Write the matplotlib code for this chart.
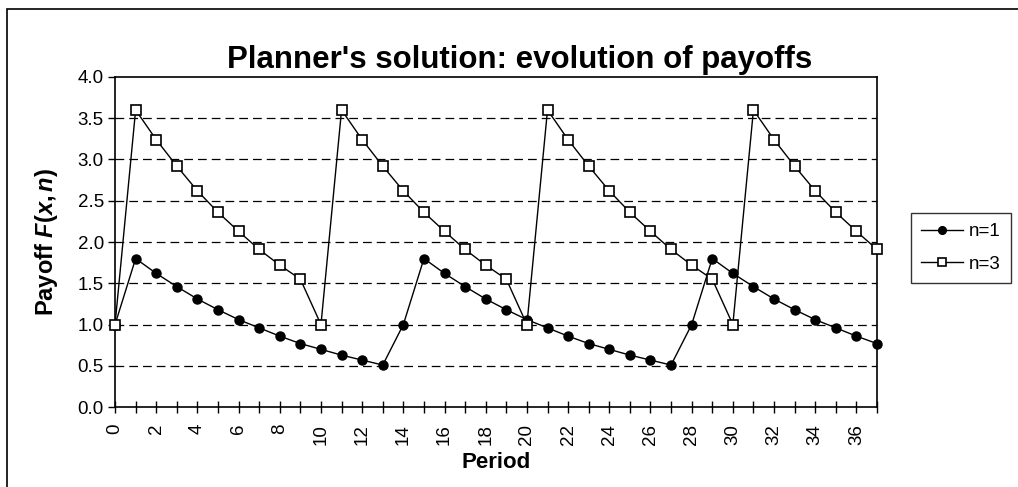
import matplotlib.pyplot as plt
from matplotlib.patches import Rectangle

plt.rcParams["font.family"] = ["Liberation Sans", "DejaVu Sans"]
plt.rcParams["mathtext.fontset"] = "custom"
plt.rcParams["mathtext.rm"] = "Liberation Sans:bold"
plt.rcParams["mathtext.it"] = "Liberation Sans:bold:italic"
plt.rcParams["mathtext.bf"] = "Liberation Sans:bold"

# Data
periods = list(range(38))
payoff_n1 = [1.00, 1.80, 1.62, 1.46, 1.31, 1.18, 1.06, 0.96, 0.86, 0.77,
             0.70, 0.63, 0.57, 0.51, 1.00, 1.80, 1.62, 1.46, 1.31, 1.18,
             1.06, 0.96, 0.86, 0.77, 0.70, 0.63, 0.57, 0.51, 1.00, 1.80,
             1.62, 1.46, 1.31, 1.18, 1.06, 0.96, 0.86, 0.77]
payoff_n3 = [1.00, 3.60, 3.24, 2.92, 2.62, 2.36, 2.13, 1.91, 1.72, 1.55,
             1.00, 3.60, 3.24, 2.92, 2.62, 2.36, 2.13, 1.91, 1.72, 1.55,
             1.00, 3.60, 3.24, 2.92, 2.62, 2.36, 2.13, 1.91, 1.72, 1.55,
             1.00, 3.60, 3.24, 2.92, 2.62, 2.36, 2.13, 1.91]
y_ticks = [0.0, 0.5, 1.0, 1.5, 2.0, 2.5, 3.0, 3.5, 4.0]
x_labels = list(range(0, 37, 2))

fig = plt.figure(figsize=(10.18, 4.87), dpi=100)
ax = fig.add_axes([0.113, 0.164, 0.7485, 0.678])

# outer chart frame (only left and top edges are visible in the picture)
fig.patches.append(Rectangle((7 / 1018, -0.1), 1.2, (487 - 9) / 487 + 0.1,
                             transform=fig.transFigure, fill=False,
                             edgecolor="black", linewidth=1.2))

ax.plot(periods, payoff_n1, color="black", linewidth=1, marker="o",
        markersize=6.5, markerfacecolor="black", label="n=1", clip_on=False, zorder=3)
ax.plot(periods, payoff_n3, color="black", linewidth=1, marker="s",
        markersize=6.5, markerfacecolor="white", markeredgecolor="black",
        markeredgewidth=1.2, label="n=3", clip_on=False, zorder=4)

ax.set_xlim(0, 37)
ax.set_ylim(0, 4)
ax.set_xticks(periods, minor=True)
ax.set_xticks(x_labels)
ax.set_xticklabels([str(v) for v in x_labels], rotation=90, fontsize=13.5)
ax.set_yticks(y_ticks)
ax.set_yticklabels([f"{v:.1f}" for v in y_ticks], fontsize=13.5)
ax.tick_params(axis="x", which="both", direction="inout", length=8, width=1, pad=8)
ax.tick_params(axis="y", direction="out", length=5, width=1, pad=3)

for v in y_ticks[1:-1]:
    ax.axhline(v, color="black", linewidth=0.9, linestyle=(0, (7, 4)), zorder=1)

for s in ax.spines.values():
    s.set_linewidth(1.2)

ax.set_xlabel("Period", fontsize=16, fontweight="bold", labelpad=5)
ax.set_ylabel(r"Payoff $F(x,n)$", fontsize=17, fontweight="bold", labelpad=13)
fig.text(0.51, 1 - 68 / 487, "Planner's solution: evolution of payoffs", ha="center",
         va="baseline", fontsize=22.5, fontweight="bold")

leg = ax.legend(loc="upper left", bbox_to_anchor=(911 / 1018, 1 - 213 / 487),
                bbox_transform=fig.transFigure, fontsize=13.5, frameon=True,
                fancybox=False, edgecolor="black", handlelength=2.2,
                markerscale=0.85, borderpad=0.55, labelspacing=0.8,
                handletextpad=0.35, borderaxespad=0)
leg.get_frame().set_linewidth(1)

fig.savefig("out.png", dpi=100)
